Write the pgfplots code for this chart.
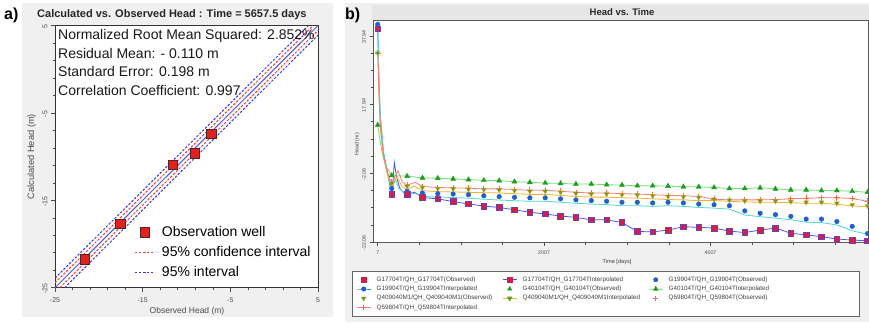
\documentclass[border=0pt]{standalone}
\usepackage{pgfplots}
\usepackage{pgfplotstable}
\pgfplotsset{compat=1.18}
\usepackage{fontspec}
\setmainfont{Liberation Sans}

\definecolor{panelgray}{HTML}{F0F0F0}
\definecolor{titlegray}{HTML}{E6E6E6}
\definecolor{sqred}{HTML}{E0221E}
\definecolor{sqedge}{HTML}{5A1E28}
\definecolor{lineblue}{HTML}{4A5AE8}
\definecolor{ciRed}{HTML}{FF3A3A}
\definecolor{piBlue}{HTML}{3A3AE0}
% panel b series colours
\definecolor{bsq}{HTML}{D0204A}
\definecolor{bsqedge}{HTML}{7040B0}
\definecolor{bblue}{HTML}{1F5FD0}
\definecolor{bcyan}{HTML}{50D6D6}
\definecolor{bgreen}{HTML}{1E9E1E}
\definecolor{blgreen}{HTML}{70E070}
\definecolor{bolive}{HTML}{6A9A1A}
\definecolor{borange}{HTML}{F5B030}
\definecolor{bplus}{HTML}{FF6A3A}
\definecolor{bsalmon}{HTML}{F08080}

% observed heads (m) at the observation times (days)
\pgfplotstableread{
t      g177   g199   g401  q409   q598
7      40.0   41.3   12.0  32.9   32.9
175    -8.1   -6.5   -2.7  -5.0   -4.6
359.5  -8.1   -7.3   -2.9  -5.8   -5.5
544    -9.1   -7.8   -3.4  -6.2   -5.9
728.5  -9.5   -8.0   -3.5  -6.5   -6.2
913    -10.3  -8.1   -3.7  -6.6   -6.3
1097.5 -11.0  -8.3   -3.9  -6.7   -6.4
1282   -11.6  -8.6   -4.1  -6.8   -6.6
1466.5 -12.0  -8.85  -4.2  -6.9   -6.6
1651   -12.7  -9.05  -4.5  -7.1   -6.8
1835.5 -13.4  -9.2   -4.7  -7.3   -7.0
2020   -13.9  -9.2   -4.9  -7.3   -7.0
2204.5 -14.5  -9.5   -5.0  -7.6   -7.3
2389   -14.9  -9.8   -5.2  -7.9   -7.6
2573.5 -15.6  -10.0  -5.2  -8.1   -7.8
2758   -15.6  -10.2  -5.4  -8.1   -7.8
2942.5 -16.4  -10.5  -5.5  -8.3   -8.0
3127   -19.0  -10.5  -5.7  -8.4   -8.1
3311.5 -19.1  -10.7  -5.7  -8.6   -8.3
3496   -18.6  -10.5  -5.8  -8.8   -8.5
3680.5 -17.6  -10.7  -6.0  -8.9   -8.6
3865   -17.8  -11.0  -6.0  -9.1   -8.8
4049.5 -18.0  -11.2  -6.2  -9.6   -9.6
4234   -18.9  -11.5  -6.5  -9.9   -9.8
4418.5 -19.3  -13.0  -6.5  -10.1  -9.8
4603   -18.6  -13.7  -6.3  -10.2  -9.8
4787.5 -18.0  -14.1  -6.6  -10.2  -9.7
4972   -19.5  -14.6  -6.9  -10.3  -9.5
5156.5 -20.0  -15.4  -6.9  -10.5  -9.3
5341   -20.5  -15.4  -7.1  -10.5  -9.2
5525.5 -21.2  -16.1  -7.1  -10.8  -9.2
5710   -21.5  -17.5  -7.3  -11.2  -9.4
5894.5 -21.7  -19.6  -7.6  -11.5  -10.2
}\obs

\begin{document}
\begin{tikzpicture}[x=1pt,y=1pt]
\path[use as bounding box] (0,0) rectangle (869,325);
\fill[white] (0,0) rectangle (869,325);
\fill[panelgray] (22,8) rectangle (333,322);
\fill[panelgray] (345,3) rectangle (869,322);
\fill[titlegray] (372,304.5) rectangle (869,320);
\node[anchor=west, inner sep=0pt, font=\fontsize{16}{16}\selectfont\bfseries] at (4,310) {a)};
\node[anchor=west, inner sep=0pt, font=\fontsize{16}{16}\selectfont\bfseries] at (345,310) {b)};
\node[anchor=west, inner sep=0pt, text=black!85, font=\fontsize{11}{11}\selectfont\bfseries] at (37,310) {Calculated vs. Observed Head : Time = 5657.5 days};
\node[inner sep=0pt, text=black!85, font=\fontsize{9.5}{9.5}\selectfont\bfseries] at (622,312.5) {Head vs. Time};

% ---------------- a) calculated vs observed ----------------
\begin{axis}[
  at={(55pt,37.3pt)}, anchor=south west,
  width=263pt, height=262.2pt, scale only axis,
  xmin=-25, xmax=5, ymin=-25, ymax=5,
  xtick={-25,-15,-5,5}, ytick={-25,-15,-5,5}, minor tick num=4,
  tick align=outside, xtick pos=left, ytick pos=left,
  major tick length=4pt, minor tick length=2.5pt,
  every tick/.style={black!70, line width=0.5pt},
  /pgf/number format/assume math mode=true,
  ticklabel style={font=\fontsize{7}{7}\selectfont, text=black!70},
  xticklabel style={yshift=-2pt},
  yticklabel style={rotate=90, anchor=south, xshift=-1pt},
  axis line style={black!80, line width=0.8pt},
  axis background/.style={fill=white},
  xlabel={Observed Head (m)}, ylabel={Calculated Head (m)},
  every axis x label/.style={at={(axis description cs:0.502,-0.089)}, anchor=center,
    font=\fontsize{8.5}{8.5}\selectfont, text=black!70},
  every axis y label/.style={at={(axis description cs:-0.0886,0.5)}, rotate=90, anchor=center,
    font=\fontsize{9.3}{9.3}\selectfont, text=black!70},
  legend image code/.code={\draw[mark repeat=2,mark phase=2,#1] plot coordinates {(0pt,0pt) (10pt,0pt) (20pt,0pt)};},
  legend style={draw=none, fill=none, font=\fontsize{14}{14}\selectfont,
    at={(axis description cs:0.29,0.248)}, anchor=north west,
    nodes={inner sep=1.5pt}, row sep=5.5pt,
    /tikz/every odd column/.append style={column sep=5pt}},
  legend cell align=left,
]
\addplot[lineblue, line width=1pt, forget plot] coordinates {(-25,-25) (5,5)};
\addplot[ciRed, line width=1pt, dash pattern=on 2.4pt off 1.6pt, forget plot] coordinates {(-25,-24.45) (4.45,5)};
\addplot[ciRed, line width=1pt, dash pattern=on 2.4pt off 1.6pt, forget plot] coordinates {(-24.45,-25) (5,4.45)};
\addplot[piBlue, line width=1pt, dash pattern=on 2.4pt off 1.6pt, forget plot] coordinates {(-25,-23.9) (3.9,5)};
\addplot[piBlue, line width=1pt, dash pattern=on 2.4pt off 1.6pt, forget plot] coordinates {(-23.9,-25) (5,3.9)};
\addplot[only marks, mark=square*, mark size=4.8pt,
  mark options={fill=sqred, draw=sqedge, line width=0.8pt}, forget plot]
  coordinates {(-21.58,-21.75) (-17.51,-17.68) (-11.54,-10.96) (-9.03,-9.62) (-7.17,-7.41)};
\addlegendimage{only marks, mark=square*, mark size=4.8pt, mark options={fill=sqred, draw=sqedge, line width=0.8pt}}
\addlegendentry{Observation well}
\addlegendimage{ciRed, line width=1pt, dash pattern=on 2.4pt off 1.6pt}
\addlegendentry{95\% confidence interval}
\addlegendimage{piBlue, line width=1pt, dash pattern=on 2.4pt off 1.6pt}
\addlegendentry{95\% interval}
\node[anchor=north west, align=left, inner sep=0pt, text=black!90,
  font=\fontsize{14}{18.7}\selectfont] at ([xshift=3pt,yshift=-3.5pt]rel axis cs:0,1)
  {Normalized Root Mean Squared: 2.852\%\\Residual Mean: - 0.110 m\\Standard Error: 0.198 m\\Correlation Coefficient: 0.997};
\end{axis}

% ---------------- b) head vs time ----------------
\begin{axis}[
  at={(373pt,83pt)}, anchor=south west,
  width=495pt, height=221.5pt, scale only axis,
  xmin=-50, xmax=5900, ymin=-22.06, ymax=42.4,
  clip=false,
  xtick={7,2007,4007}, xticklabels={7,2007,4007},
  minor xtick={507,1007,1507,2507,3007,3507,4507,5007,5507},
  ytick={-22.06,-2.06,17.94,37.94}, yticklabels={-22.06,-2.06,17.94,37.94},
  minor ytick={-17.06,-12.06,-7.06,2.94,7.94,12.94,22.94,27.94,32.94},
  tick align=outside, xtick pos=left, ytick pos=left,
  major tick length=3.5pt, minor tick length=2.5pt,
  every tick/.style={black!70, line width=0.5pt},
  /pgf/number format/assume math mode=true,
  ticklabel style={font=\fontsize{5.3}{5.3}\selectfont, text=black!70},
  xticklabel style={yshift=-2pt},
  yticklabel style={rotate=90, anchor=south, xshift=-1pt},
  axis line style={black!65, line width=0.9pt},
  axis background/.style={fill=white},
  xlabel={Time  [days]}, ylabel={Head (m)},
  every axis x label/.style={at={(axis description cs:0.493,-0.09)}, anchor=center,
    font=\fontsize{5.6}{5.6}\selectfont, text=black!75},
  every axis y label/.style={at={(axis description cs:-0.032,0.442)}, rotate=90, anchor=center,
    font=\fontsize{5.3}{5.3}\selectfont, text=black!75},
  legend columns=3,
  legend image code/.code={\draw[mark repeat=2,mark phase=2,#1] plot coordinates {(0pt,0pt) (7pt,0pt) (14pt,0pt)};},
  legend style={at={(axis description cs:-0.0424,-0.13)}, anchor=north west,
    draw=black!60, line width=0.6pt, fill=white, inner sep=4pt,
    font=\fontsize{6.3}{6.3}\selectfont, text=black!75,
    nodes={inner sep=1.6pt},
    /tikz/every odd column/.append style={column sep=4pt},
    /tikz/every even column/.append style={column sep=6pt}},
  legend cell align=left,
]
% interpolated heads
\addplot[lineblue, line width=0.8pt, forget plot] coordinates {
 (7,40.0) (22,24) (38,14) (75,4) (120,-1.5) (160,-6.5) (180,-8.1) (206,1.1) (235,-3.5)
 (275,-6.5) (320,-7.8) (359.5,-8.1) (450,-7.6) (544,-9.1) (728.5,-9.5) (913,-10.3)
 (1097.5,-11.0) (1282,-11.6) (1466.5,-12.0) (1651,-12.7) (1835.5,-13.4) (2020,-13.9)
 (2204.5,-14.5) (2389,-14.9) (2573.5,-15.6) (2758,-15.6) (2942.5,-16.4) (3127,-19.0)
 (3311.5,-19.1) (3496,-18.6) (3680.5,-17.6) (3865,-17.8) (4049.5,-18.0) (4234,-18.9)
 (4418.5,-19.3) (4603,-18.6) (4787.5,-18.0) (4972,-19.5) (5156.5,-20.0) (5341,-20.5)
 (5525.5,-21.2) (5710,-21.5) (5894.5,-21.7)};
\addplot[bcyan, line width=0.8pt, forget plot] coordinates {
 (7,41.3) (22,25) (38,15) (75,4.5) (120,-1.5) (160,-5.5) (180,-7.3) (215,-3.5) (260,-6.5)
 (359.5,-8.3) (450,-7.9) (544,-8.8) (728.5,-9.0) (913,-9.1) (1097.5,-9.3) (1282,-9.6)
 (1466.5,-9.85) (1651,-10.05) (1835.5,-10.2) (2020,-10.2) (2204.5,-10.5) (2389,-10.8)
 (2573.5,-11.0) (2758,-11.2) (2942.5,-11.5) (3127,-11.5) (3311.5,-11.7) (3496,-11.5)
 (3680.5,-11.7) (3865,-12.0) (4049.5,-12.2) (4234,-12.5) (4418.5,-14.2) (4603,-14.7)
 (4787.5,-15.1) (4972,-15.6) (5156.5,-16.3) (5341,-16.4) (5525.5,-17.1) (5710,-18.8)
 (5894.5,-19.8)};
\addplot[blgreen, line width=0.8pt, forget plot] coordinates {
 (7,12.0) (30,8) (60,4) (100,0.5) (140,-1.5) (175,-2.7) (359.5,-2.9) (544,-3.4)
 (728.5,-3.5) (913,-3.7) (1097.5,-3.9) (1282,-4.1) (1466.5,-4.2) (1651,-4.5) (1835.5,-4.7)
 (2020,-4.9) (2204.5,-5.0) (2389,-5.2) (2573.5,-5.2) (2758,-5.4) (2942.5,-5.5) (3127,-5.7)
 (3311.5,-5.7) (3496,-5.8) (3680.5,-6.0) (3865,-6.0) (4049.5,-6.2) (4234,-6.5) (4418.5,-6.5)
 (4603,-6.3) (4787.5,-6.6) (4972,-6.9) (5156.5,-6.9) (5341,-7.1) (5525.5,-7.1) (5710,-7.3)
 (5894.5,-7.6)};
\addplot[borange, line width=0.8pt, forget plot] coordinates {
 (7,32.9) (22,20) (38,11) (75,2.5) (120,-2) (160,-5.0) (180,-5.8) (240,-3.0) (300,-6.0)
 (359.5,-6.7) (450,-5.8) (544,-7.1) (728.5,-7.4) (913,-7.5) (1097.5,-7.6) (1282,-7.7)
 (1466.5,-7.8) (1651,-8.0) (1835.5,-8.2) (2020,-8.2) (2204.5,-8.5) (2389,-8.8) (2573.5,-9.0)
 (2758,-9.0) (2942.5,-9.2) (3127,-9.3) (3311.5,-9.5) (3496,-9.7) (3680.5,-9.8) (3865,-10.0)
 (4049.5,-10.0) (4234,-10.2) (4418.5,-10.4) (4603,-10.5) (4787.5,-10.5) (4972,-10.6)
 (5156.5,-10.8) (5341,-10.8) (5525.5,-11.1) (5710,-11.5) (5894.5,-11.8)};
\addplot[bsalmon, line width=0.8pt, forget plot] coordinates {
 (7,32.9) (22,21) (38,12) (75,3) (120,-1.5) (160,-4.0) (180,-4.6) (250,-1.3) (300,-4.5)
 (359.5,-5.5) (460,-4.7) (544,-5.9) (728.5,-6.2) (913,-6.3) (1097.5,-6.4) (1282,-6.6)
 (1466.5,-6.6) (1651,-6.8) (1835.5,-7.0) (2020,-7.0) (2204.5,-7.3) (2389,-7.6) (2573.5,-7.8)
 (2758,-7.8) (2942.5,-8.0) (3127,-8.1) (3311.5,-8.3) (3496,-8.5) (3680.5,-8.6) (3865,-8.8)
 (4049.5,-9.6) (4234,-9.8) (4418.5,-9.8) (4603,-9.8) (4787.5,-9.7) (4972,-9.5) (5156.5,-9.3)
 (5341,-9.2) (5525.5,-9.2) (5710,-9.4) (5894.5,-10.2)};
% observed heads
\addplot[only marks, mark=+, mark size=2.8pt, mark options={bplus, line width=0.8pt}, forget plot] table[x=t, y=q598] {\obs};
\addplot[only marks, mark=triangle*, mark size=2.8pt, mark options={rotate=180, fill=bolive, draw=borange!70!bolive, line width=0.4pt}, forget plot] table[x=t, y=q409] {\obs};
\addplot[only marks, mark=triangle*, mark size=2.9pt, mark options={fill=bgreen, draw=bgreen}, forget plot] table[x=t, y=g401] {\obs};
\addplot[only marks, mark=*, mark size=2.3pt, mark options={fill=bblue, draw=bblue}, forget plot] table[x=t, y=g199] {\obs};
\addplot[only marks, mark=square*, mark size=2.8pt, mark options={fill=bsq, draw=bsqedge, line width=0.6pt}, forget plot] table[x=t, y=g177] {\obs};

\addlegendimage{only marks, mark=square*, mark size=2.3pt, mark options={fill=bsq, draw=bsq}}
\addlegendentry{\makebox[118pt][l]{G17704T/QH\_G17704T(Observed)}}
\addlegendimage{lineblue, line width=0.8pt, mark=square*, mark size=2.3pt, mark options={fill=bsq, draw=bsq}}
\addlegendentry{\makebox[118pt][l]{G17704T/QH\_G17704TInterpolated}}
\addlegendimage{only marks, mark=*, mark size=2.1pt, mark options={fill=bblue, draw=bblue}}
\addlegendentry{\makebox[185pt][l]{G19904T/QH\_G19904T(Observed)}}
\addlegendimage{bblue!60!bcyan, line width=0.8pt, mark=*, mark size=2.1pt, mark options={fill=bblue, draw=bblue}}
\addlegendentry{\makebox[118pt][l]{G19904T/QH\_G19904TInterpolated}}
\addlegendimage{only marks, mark=triangle*, mark size=2.4pt, mark options={fill=bgreen, draw=bgreen}}
\addlegendentry{\makebox[118pt][l]{G40104T/QH\_G40104T(Observed)}}
\addlegendimage{blgreen, line width=0.8pt, mark=triangle*, mark size=2.4pt, mark options={fill=bgreen, draw=bgreen}}
\addlegendentry{\makebox[185pt][l]{G40104T/QH\_G40104TInterpolated}}
\addlegendimage{only marks, mark=triangle*, mark size=2.4pt, mark options={rotate=180, fill=bolive, draw=bolive}}
\addlegendentry{\makebox[118pt][l]{Q409040M1/QH\_Q409040M1(Observed)}}
\addlegendimage{borange, line width=0.8pt, mark=triangle*, mark size=2.4pt, mark options={rotate=180, fill=bolive, draw=bolive}}
\addlegendentry{\makebox[118pt][l]{Q409040M1/QH\_Q409040M1Interpolated}}
\addlegendimage{only marks, mark=+, mark size=2.6pt, mark options={bplus, line width=0.7pt}}
\addlegendentry{\makebox[185pt][l]{Q59804T/QH\_Q59804T(Observed)}}
\addlegendimage{bsalmon, line width=0.8pt, mark=+, mark size=2.6pt, mark options={bplus, line width=0.7pt}}
\addlegendentry{\makebox[118pt][l]{Q59804T/QH\_Q59804TInterpolated}}
\end{axis}
\end{tikzpicture}
\end{document}
